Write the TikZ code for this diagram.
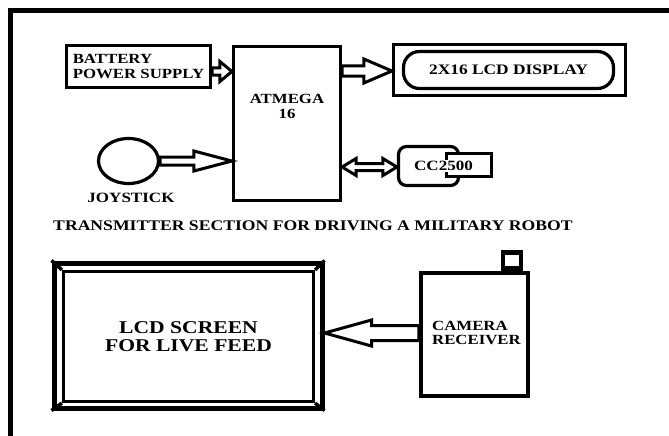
\documentclass[tikz,border=0pt]{standalone}
\usepackage{fontspec}
\setmainfont{Liberation Serif}[FakeStretch=1.2]
\usetikzlibrary{calc,shapes.geometric}
\newcommand\blockarr[5]{% start, end, shaft half, head half, head length (signed)
  \draw[barr] ($(#1)+(0,-#3)$) -- ($(#2)+({-(#5)},-#3)$) -- ($(#2)+({-(#5)},-#4)$) -- (#2)
    -- ($(#2)+({-(#5)},#4)$) -- ($(#2)+({-(#5)},#3)$) -- ($(#1)+(0,#3)$) -- cycle;}
\newcommand\dblarr[5]{% start, end, shaft half, head half, head length
  \draw[barr] (#1) -- ($(#1)+(#5,-#4)$) -- ($(#1)+(#5,-#3)$) -- ($(#2)+(-#5,-#3)$) -- ($(#2)+(-#5,-#4)$)
    -- (#2) -- ($(#2)+(-#5,#4)$) -- ($(#2)+(-#5,#3)$) -- ($(#1)+(#5,#3)$) -- ($(#1)+(#5,#4)$) -- cycle;}
\begin{document}
\begin{tikzpicture}[x=1pt,y=-1pt,
  box/.style={draw, line width=3.2pt, fill=white, inner sep=0pt},
  txt/.style={font=\bfseries\fontsize{14}{15}\selectfont, align=center, inner sep=0pt},
  barr/.style={draw, line width=3pt, fill=white, line join=miter}]
\useasboundingbox (0,0) rectangle (669,436);
% outer frame
\draw[line width=5pt] (669,10.5) -- (10.5,10.5) -- (10.5,436);
% battery
\node[box, minimum width=144pt, minimum height=42pt, txt, align=left, font=\bfseries\fontsize{14}{15}\selectfont] (bat) at (138.5,66.5) {BATTERY\\POWER SUPPLY};
% atmega
\node[box, minimum width=107pt, minimum height=154pt] (atm) at (287,123.5) {};
\node[txt] (atmt) at (287,106.5) {ATMEGA\\16};
% lcd display
\node[box, minimum width=232pt, minimum height=51pt] (lcdo) at (509.5,70) {};
\node[box, rounded corners=16pt, minimum width=210pt, minimum height=37pt, txt, font=\bfseries\fontsize{14.5}{15}\selectfont] (lcdi) at (508.5,70) {2X16 LCD DISPLAY};
% cc2500
\node[box, rounded corners=8pt, minimum width=60pt, minimum height=39pt] (cc) at (428.5,166) {};
\node[box, minimum width=45pt, minimum height=23pt] (tab) at (469,165) {};
\node[txt, fill=white, inner sep=1pt, font=\bfseries\fontsize{14.2}{15}\selectfont] (cct) at (443.5,166) {CC2500};
% joystick
\node[box, ellipse, minimum width=60pt, minimum height=45pt] (joy) at (128.5,161) {};
\node[txt, font=\bfseries\fontsize{14.2}{15}\selectfont] (joyt) at (131,197.5) {JOYSTICK};
% title
\node[txt, font=\bfseries\fontsize{14.7}{15}\selectfont] (title) at (313,226) {TRANSMITTER SECTION FOR DRIVING A MILITARY ROBOT};
% lcd screen
\node[draw, line width=5pt, inner sep=0pt, minimum width=268pt, minimum height=145pt] (scr) at (188,335.5) {};
\node[box, minimum width=250pt, minimum height=130pt, txt, font=\bfseries\fontsize{18}{18}\selectfont] (scri) at (188.5,336.5) {LCD SCREEN\\FOR LIVE FEED};
\foreach \c in {north west, north east, south west, south east}
  \draw[line width=3.5pt] (scr.\c) -- (scri.\c);
% camera receiver
\node[draw, line width=4.5pt, inner sep=0pt, minimum width=107pt, minimum height=123pt] (cam) at (474.5,334.5) {};
\node[txt, align=left, font=\bfseries\fontsize{14}{13.5}\selectfont] (camt) at (476.5,333) {CAMERA\\RECEIVER};
\node[draw, line width=4.5pt, inner sep=0pt, minimum width=18pt, minimum height=16pt, anchor=south] (ant) at (cam.north -| 512,0) {};
% arrows
\coordinate (b1) at ($(bat.east)+(0,5)$);
\coordinate (b2) at (b1 -| atm.west);
\blockarr{b1}{b2}{3.5}{10}{12}
\coordinate (l1) at ($(atm.east)+(0,-52.5)$);
\coordinate (l2) at (l1 -| lcdo.west);
\blockarr{l1}{l2}{5}{12}{28}
\coordinate (j2) at (joy.east -| atm.west);
\blockarr{joy.east}{j2}{4}{10}{38}
\coordinate (c1) at ($(atm.east)+(0,43.5)$);
\coordinate (c2) at (c1 -| cc.west);
\dblarr{c1}{c2}{3.5}{8.5}{14}
\coordinate (k1) at ($(cam.west)+(0,-1.5)$);
\coordinate (k2) at (k1 -| scr.east);
\blockarr{k1}{k2}{7.5}{13}{-47}
\end{tikzpicture}
\end{document}
